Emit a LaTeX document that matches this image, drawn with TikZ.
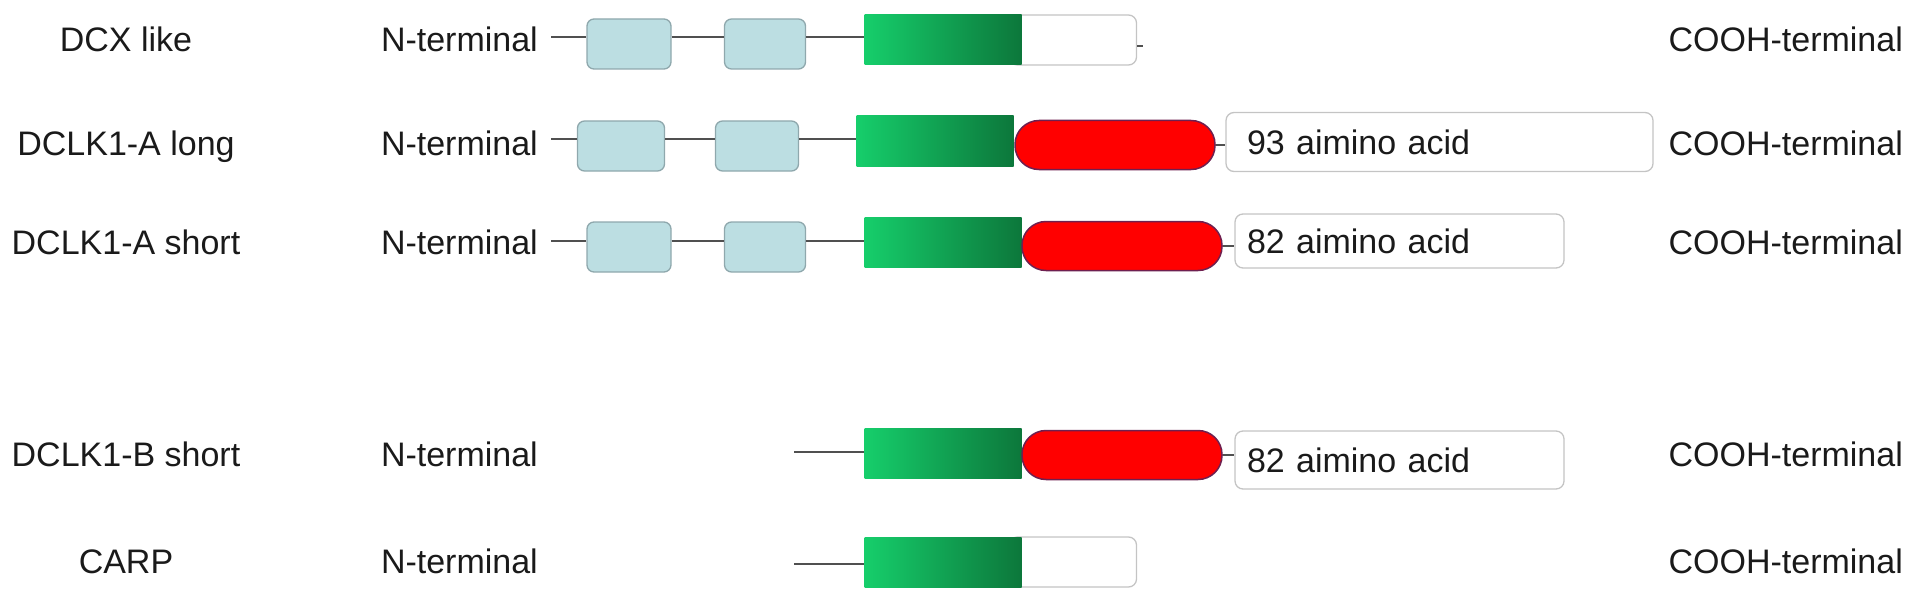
\documentclass[tikz,border=0pt]{standalone}
\usepackage{fontspec}
\setmainfont{Liberation Sans}
\definecolor{boxfill}{HTML}{BCDEE2}
\definecolor{boxedge}{HTML}{8FA8AD}
\definecolor{greenL}{HTML}{16CE6B}
\definecolor{greenM}{HTML}{13B760}
\definecolor{greenD}{HTML}{0C773B}
\definecolor{redfill}{HTML}{FF0000}
\definecolor{rededge}{HTML}{6E2050}
\definecolor{tailedge}{HTML}{C4C4C4}
\definecolor{linkc}{HTML}{505050}
\definecolor{txt}{HTML}{1A1A1A}
\begin{document}
\begin{tikzpicture}[x=1pt,y=-1pt,
  lbl/.style={font=\fontsize{34}{40}\selectfont, text=txt, inner sep=0pt},
  dcx/.style={draw=boxedge, fill=boxfill, rounded corners=7pt, minimum height=50pt, inner sep=0pt, line width=1.3pt},
  kin/.style={rectangle, left color=greenL, middle color=greenM, right color=greenD, minimum width=157pt, minimum height=50pt, inner sep=0pt},
  ser/.style={draw=rededge, fill=redfill, rounded corners=24pt, minimum width=200pt, minimum height=49pt, inner sep=0pt, line width=1.5pt},
  tail/.style={draw=tailedge, fill=white, rounded corners=8pt, line width=1.3pt, inner sep=0pt},
  tailtxt/.style={tail, font=\fontsize{34}{40}\selectfont, text=txt, align=left},
  link/.style={draw=linkc, line width=1.8pt}
]
\useasboundingbox (0,0) rectangle (1913,607);

% ---------- labels ----------
\foreach \nm/\t/\yy in {a/DCX like/52, b/DCLK1-A long/155, c/DCLK1-A short/254, d/DCLK1-B short/466, e/CARP/573}{
  \node[lbl, anchor=base] (name\nm) at (126,\yy) {\t};
  \node[lbl, anchor=base east] (nt\nm) at (538,\yy) {N-terminal};
  \node[lbl, anchor=base east] (ct\nm) at (1903,\yy) {COOH-terminal};
}

% ---------- row 1: DCX like ----------
\coordinate (s1) at (551,37);
\node[dcx, minimum width=84pt] (a1) at (629,44) {};
\node[dcx, minimum width=81pt] (a2) at (765,44) {};
\node[tail, minimum width=127pt, minimum height=50pt] (aw) at (1073,40) {};
\node[kin] (ag) at (943,40) {};
\coordinate (at) at (1143,46);
\draw[link] (s1) -- (a1.west |- s1);
\draw[link] (a1.east |- s1) -- (a2.west |- s1);
\draw[link] (a2.east |- s1) -- (ag.west |- s1);
\draw[link, line width=1.2pt] (aw.east |- at) -- (at);

% ---------- row 2: DCLK1-A long ----------
\coordinate (s2) at (551,139);
\node[dcx, minimum width=87pt] (b1) at (621,146) {};
\node[dcx, minimum width=83pt] (b2) at (757,146) {};
\node[kin] (bg) at (935,141) {};
\node[ser] (br) at (1115,145) {};
\node[tailtxt, minimum width=427pt, minimum height=59pt, text width=385pt, inner xsep=21pt] (bt) at (1439.5,142) {93 aimino acid};
\draw[link] (s2) -- (b1.west |- s2);
\draw[link] (b1.east |- s2) -- (b2.west |- s2);
\draw[link] (b2.east |- s2) -- (bg.west |- s2);
\draw[link] (br.east) -- (bt.west |- br.east);

% ---------- row 3: DCLK1-A short ----------
\coordinate (s3) at (551,241);
\node[dcx, minimum width=84pt] (c1) at (629,247) {};
\node[dcx, minimum width=81pt] (c2) at (765,247) {};
\node[kin] (cg) at (943,242) {};
\node[ser] (cr) at (1122,246) {};
\node[tailtxt, minimum width=329pt, minimum height=54pt, text width=305pt, inner xsep=12pt] (ct) at (1399.5,241) {82 aimino acid};
\draw[link] (s3) -- (c1.west |- s3);
\draw[link] (c1.east |- s3) -- (c2.west |- s3);
\draw[link] (c2.east |- s3) -- (cg.west |- s3);
\draw[link] (cr.east) -- (ct.west |- cr.east);

% ---------- row 4: DCLK1-B short ----------
\coordinate (s4) at (794,452);
\node[kin] (dg) at (943,453) {};
\node[ser] (dr) at (1122,455) {};
\node[tailtxt, minimum width=329pt, minimum height=58pt, text width=305pt, inner xsep=12pt] (dt) at (1399.5,460) {82 aimino acid};
\draw[link] (s4) -- (dg.west |- s4);
\draw[link] (dr.east) -- (dt.west |- dr.east);

% ---------- row 5: CARP ----------
\coordinate (s5) at (794,564);
\node[tail, minimum width=127pt, minimum height=50pt] (ew) at (1073,562) {};
\node[kin] (eg) at (943,562) {};
\draw[link] (s5) -- (eg.west |- s5);
\end{tikzpicture}
\end{document}
